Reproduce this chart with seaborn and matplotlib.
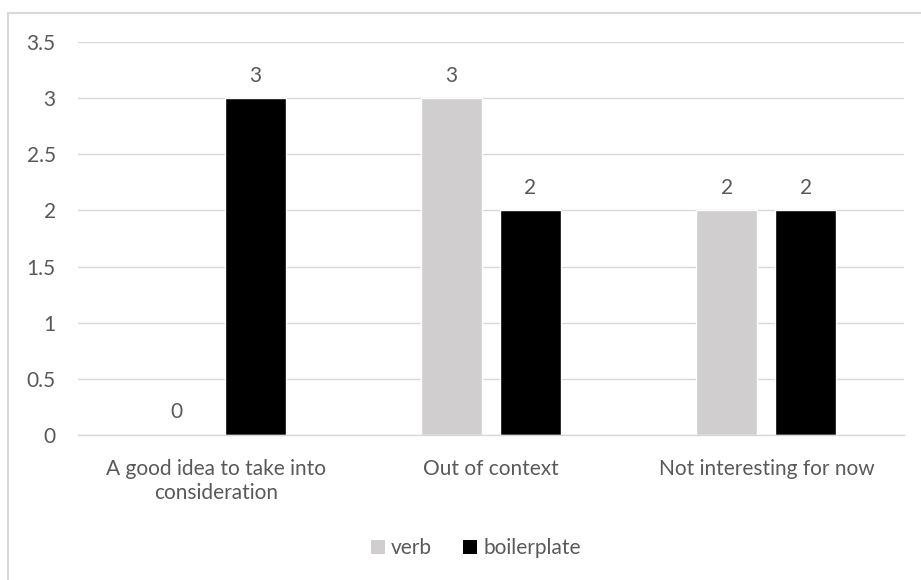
import matplotlib
matplotlib.use("Agg")
import matplotlib.pyplot as plt
from matplotlib.lines import Line2D
from matplotlib.patches import Patch
import seaborn as sns
import pandas as pd

categories = ["A good idea to take into\nconsideration", "Out of context", "Not interesting for now"]
series_names = ["verb", "boilerplate"]
verb_values = [0, 3, 2]
boilerplate_values = [3, 2, 2]
colors = {"verb": "#D0CECE", "boilerplate": "#000000"}

df = pd.DataFrame({
    "category": categories * 2,
    "series": [series_names[0]] * 3 + [series_names[1]] * 3,
    "value": verb_values + boilerplate_values,
})

sns.set_theme(style="white")
plt.rcParams["font.family"] = ["Lato", "DejaVu Sans"]
text_color = "#595959"
fs = 15

W, H = 921, 580
fig = plt.figure(figsize=(W / 100, H / 100), dpi=100)
ax = fig.add_axes([78 / W, 1 - 435 / H, (904 - 78) / W, (435 - 42) / H])

sns.barplot(data=df, x="category", y="value", hue="series", order=categories,
            hue_order=series_names, palette=colors, width=0.574, gap=0.227,
            ax=ax, legend=False, saturation=1)

ax.set_ylim(0, 3.5)
ax.set_xlim(-0.5, 2.5)
ax.set_yticks([0, 0.5, 1, 1.5, 2, 2.5, 3, 3.5])
ax.set_yticklabels(["0", "0.5", "1", "1.5", "2", "2.5", "3", "3.5"])
ax.yaxis.grid(True, color="#D9D9D9", linewidth=1)
ax.set_axisbelow(True)
for s in ["top", "right", "left"]:
    ax.spines[s].set_visible(False)
ax.spines["bottom"].set_color("#D9D9D9")
ax.spines["bottom"].set_linewidth(1)
ax.tick_params(axis="both", length=0, labelsize=fs, colors=text_color)
ax.tick_params(axis="y", pad=16)
ax.tick_params(axis="x", pad=17)
for lbl in ax.get_xticklabels():
    lbl.set_linespacing(1.3)
ax.set_xlabel("")
ax.set_ylabel("")

for cont in ax.containers:
    labels = [f"{v:g}" for v in cont.datavalues]
    ax.bar_label(cont, labels=labels, padding=9, fontsize=fs, color=text_color)

handles = [Patch(facecolor=colors[n], edgecolor="none") for n in series_names]
fig.legend(handles, series_names, loc="center", bbox_to_anchor=(476 / W, 1 - 548 / H),
           ncol=2, frameon=False, fontsize=fs, labelcolor=text_color,
           handlelength=0.65, handleheight=0.65, handletextpad=0.3, columnspacing=1.5)

# chart border (top and left visible)
fig.add_artist(Line2D([8 / W, 1], [1 - 13 / H, 1 - 13 / H], color="#D9D9D9", linewidth=1.5))
fig.add_artist(Line2D([8 / W, 8 / W], [0, 1 - 13 / H], color="#D9D9D9", linewidth=1.5))

fig.savefig("out.png", dpi=100, facecolor="white")
